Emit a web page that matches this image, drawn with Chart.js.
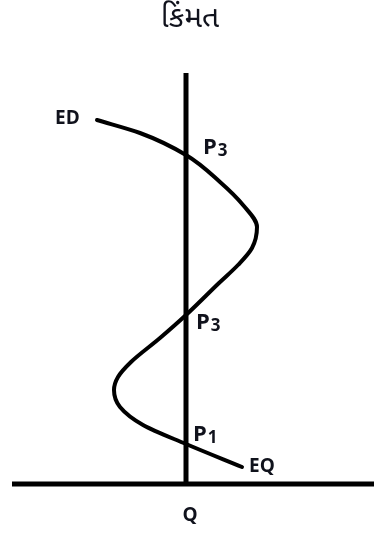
<!DOCTYPE html>
<html>
<head>
<meta charset="utf-8">
<script src="https://cdn.jsdelivr.net/npm/chart.js@4/dist/chart.umd.min.js"></script>
<style>
  html, body { margin: 0; padding: 0; background: #fff; }
  #wrap { width: 374px; height: 533px; }
</style>
</head>
<body>
<div id="wrap"><canvas id="priceChart"></canvas></div>
<script>
// curve ED -> EQ, x = quantity offset from Q line, y = price
const curveX = [-89, -46, 0, 34, 57, 71, 66, 52, 33, 0, -26, -55, -68, -72, -66, -43, 0, 56];
const curveY = [364, 351, 329, 302, 279, 257, 236, 219, 201, 169, 146, 122, 107, 94, 77, 59, 40, 17];

// axes
const priceAxisX = [0, 0];
const priceAxisY = [0, 411];
const qtyAxisX = [-174, 188];
const qtyAxisY = [0, 0];

// text labels
const labelText = ['ED', 'P', 'P', 'P', 'EQ'];
const labelSub = ['', '3', '3', '1', ''];
const labelX = [-131, 17, 10, 7, 63];
const labelY = [365, 336, 161, 49, 17];
const titleText = 'કિંમત';
const titlePos = [4, 463];
const qText = 'Q';
const qPos = [4, -32];

const toPoints = (xs, ys) => xs.map((x, i) => ({ x: x, y: ys[i] }));

const textPlugin = {
  id: 'textLabels',
  afterDatasetsDraw(chart) {
    const ctx = chart.ctx;
    const sx = chart.scales.x, sy = chart.scales.y;
    const font = '"Open Sans", "Liberation Sans", sans-serif';
    ctx.save();
    ctx.fillStyle = '#10121c';
    ctx.textBaseline = 'middle';
    labelText.forEach((t, i) => {
      let px = sx.getPixelForValue(labelX[i]);
      let py = sy.getPixelForValue(labelY[i]);
      ctx.textAlign = 'left';
      ctx.font = 'bold ' + (labelSub[i] ? 22 : 19) + 'px ' + font;
      ctx.fillText(t, px, py);
      if (labelSub[i]) {
        let w = ctx.measureText(t).width;
        ctx.font = 'bold 17px ' + font;
        ctx.fillText(labelSub[i], px + w + 1, py + 3);
      }
    });
    ctx.textAlign = 'center';
    ctx.font = 'bold 19px ' + font;
    ctx.fillText(qText, sx.getPixelForValue(qPos[0]), sy.getPixelForValue(qPos[1]));
    ctx.font = '30px "Noto Sans Gujarati", "Noto Sans", "DejaVu Sans", sans-serif';
    ctx.fillText(titleText, sx.getPixelForValue(titlePos[0]), sy.getPixelForValue(titlePos[1]));
    ctx.restore();
  }
};

const ctx = document.getElementById('priceChart');
new Chart(ctx, {
  type: 'scatter',
  data: {
    datasets: [
      {
        data: toPoints(priceAxisX, priceAxisY),
        showLine: true,
        borderColor: '#000',
        borderWidth: 5,
        pointRadius: 0,
        borderCapStyle: 'butt'
      },
      {
        data: toPoints(qtyAxisX, qtyAxisY),
        showLine: true,
        borderColor: '#000',
        borderWidth: 5,
        pointRadius: 0
      },
      {
        data: toPoints(curveX, curveY),
        showLine: true,
        borderColor: '#000',
        borderWidth: 4,
        pointRadius: 0,
        cubicInterpolationMode: 'monotone',
        borderCapStyle: 'round'
      }
    ]
  },
  options: {
    indexAxis: 'y',
    responsive: true,
    maintainAspectRatio: false,
    animation: false,
    layout: { padding: 0 },
    scales: {
      x: { type: 'linear', min: -186, max: 188, display: false },
      y: { type: 'linear', min: -49, max: 484, display: false }
    },
    plugins: {
      legend: { display: false },
      tooltip: { enabled: false }
    },
    clip: false
  },
  plugins: [textPlugin]
});
</script>
</body>
</html>
